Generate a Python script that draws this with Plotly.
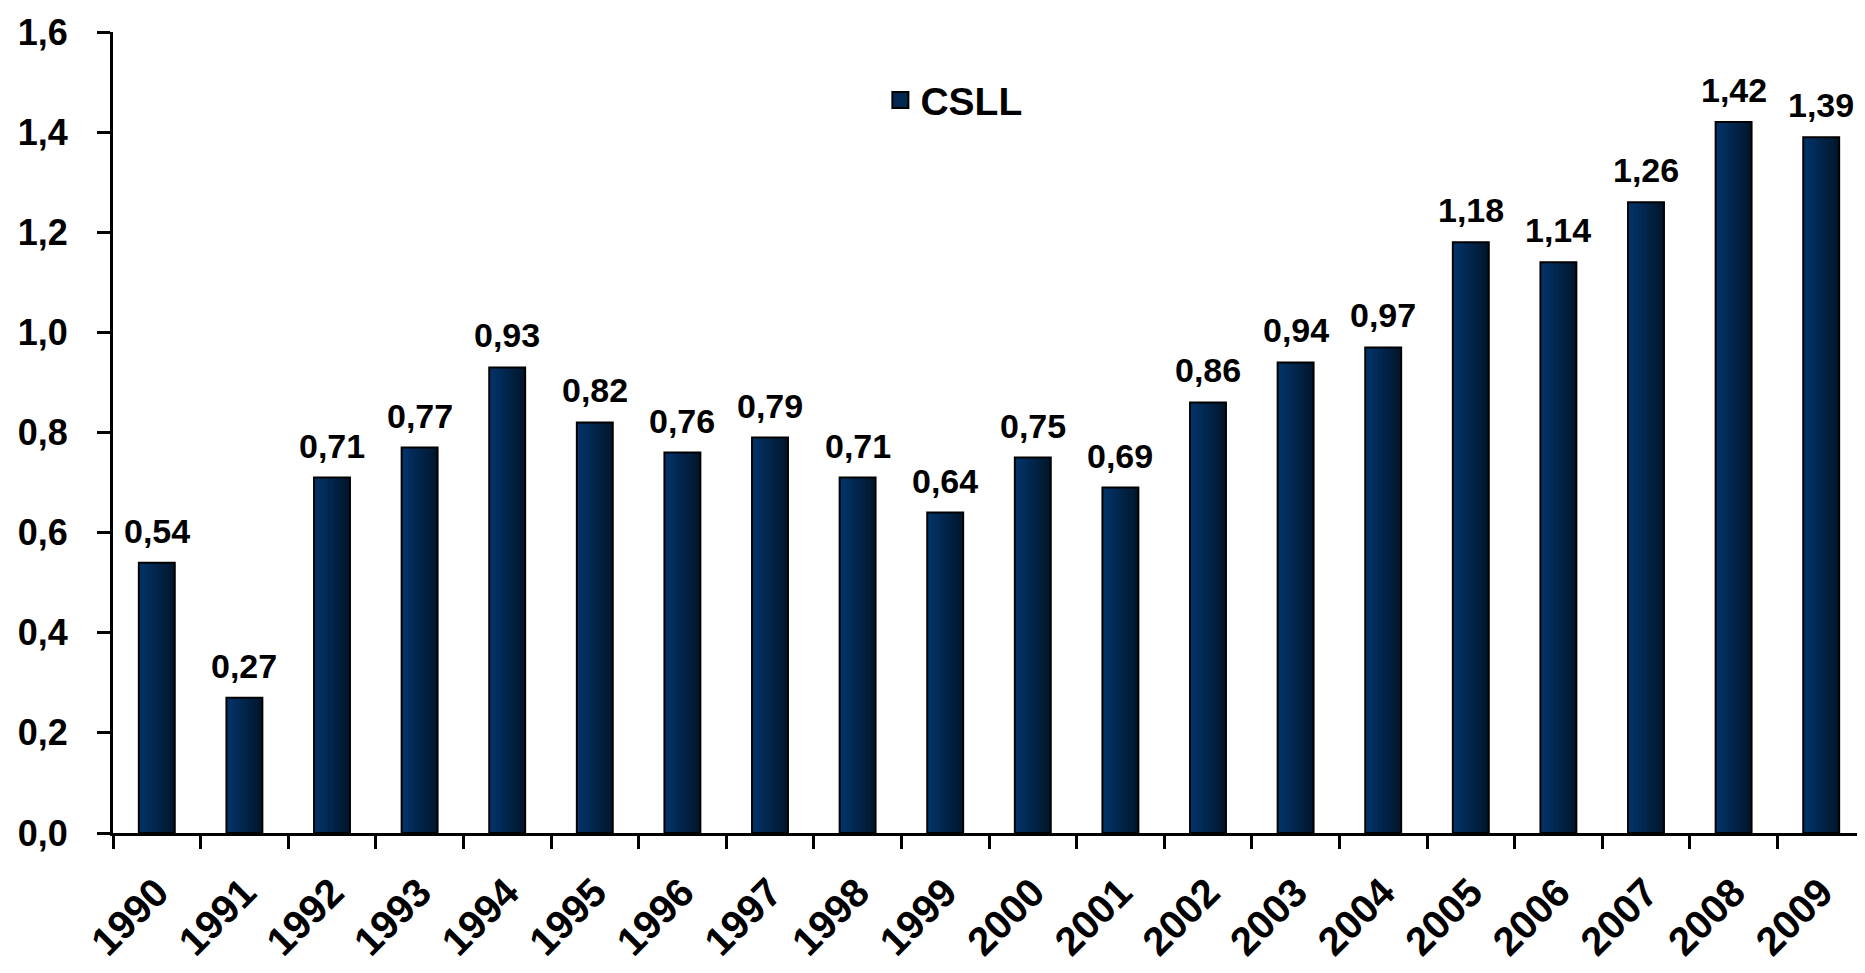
import plotly.graph_objects as go

years = ["1990", "1991", "1992", "1993", "1994", "1995", "1996", "1997", "1998", "1999",
         "2000", "2001", "2002", "2003", "2004", "2005", "2006", "2007", "2008", "2009"]
csll = [0.54, 0.27, 0.71, 0.77, 0.93, 0.82, 0.76, 0.79, 0.71, 0.64,
        0.75, 0.69, 0.86, 0.94, 0.97, 1.18, 1.14, 1.26, 1.42, 1.39]
series_name = "CSLL"
y_ticks = [0.0, 0.2, 0.4, 0.6, 0.8, 1.0, 1.2, 1.4, 1.6]

FONT = "Liberation Sans, Arial, sans-serif"
BAR_W = 0.41
C_LEFT = (2, 52, 106)
C_RIGHT = (2, 22, 44)
N_STRIPES = 14

fig = go.Figure()
# horizontal gradient fill: overlapping stripes, each running to the bar's right edge
for k in range(N_STRIPES):
    t = k / (N_STRIPES - 1)
    col = "rgb({},{},{})".format(*[round(a + (b - a) * t) for a, b in zip(C_LEFT, C_RIGHT)])
    step = BAR_W / N_STRIPES
    fig.add_trace(go.Bar(
        x=years, y=csll, width=BAR_W - k * step, offset=-BAR_W / 2 + k * step,
        marker=dict(color=col, line=dict(width=0)),
        showlegend=False, hoverinfo="skip",
    ))
# outline
fig.add_trace(go.Bar(
    x=years, y=csll, name=series_name, width=BAR_W, offset=-BAR_W / 2,
    marker=dict(color="rgba(0,0,0,0)", line=dict(color="#000000", width=2)),
    showlegend=False,
))
# legend entry with a larger square symbol
fig.add_trace(go.Scatter(
    x=[None], y=[None], name=series_name, mode="markers",
    marker=dict(symbol="square", size=22, color="rgb(2,40,82)",
                line=dict(color="#000000", width=2)),
    showlegend=True,
))

annotations = []
for i, v in enumerate(csll):
    annotations.append(dict(
        x=i, y=v, xref="x", yref="y",
        text="<b>" + f"{v:.2f}".replace(".", ",") + "</b>",
        showarrow=False, yanchor="bottom", yshift=11,
        font=dict(family=FONT, size=34, color="#000000"),
    ))

# page body has an 8px margin; compensate so the figure fills the 1865x973 window
fig.update_layout(
    width=1857, height=965,
    margin=dict(l=105, r=0, t=24, b=140, autoexpand=False),
    plot_bgcolor="white", paper_bgcolor="white",
    separators=",.",
    barmode="overlay",
    font=dict(family=FONT, color="#000000"),
    annotations=annotations,
    legend=dict(
        x=0.438, y=0.915, xanchor="left", yanchor="middle",
        font=dict(family=FONT, size=39, color="#000000", weight="bold"),
        bgcolor="rgba(0,0,0,0)",
        itemsizing="trace",
    ),
    xaxis=dict(
        type="category",
        automargin=False,
        showline=True, linecolor="#000000", linewidth=3,
        ticks="outside", ticklen=13, tickwidth=3, tickcolor="#000000",
        tickson="boundaries",
        tickangle=-45,
        tickfont=dict(family=FONT, size=40, color="#000000", weight="bold"),
        ticklabelstandoff=17,
        showgrid=False, zeroline=False,
        range=[-0.5, 19.5],
    ),
    yaxis=dict(
        range=[0, 1.6],
        automargin=False,
        tickvals=y_ticks,
        tickformat=".1f",
        showline=True, linecolor="#000000", linewidth=3,
        ticks="outside", ticklen=13, tickwidth=3, tickcolor="#000000",
        tickfont=dict(family=FONT, size=36, color="#000000", weight="bold"),
        ticklabelstandoff=22,
        showgrid=False, zeroline=False,
    ),
)

fig.write_html("out.html")
